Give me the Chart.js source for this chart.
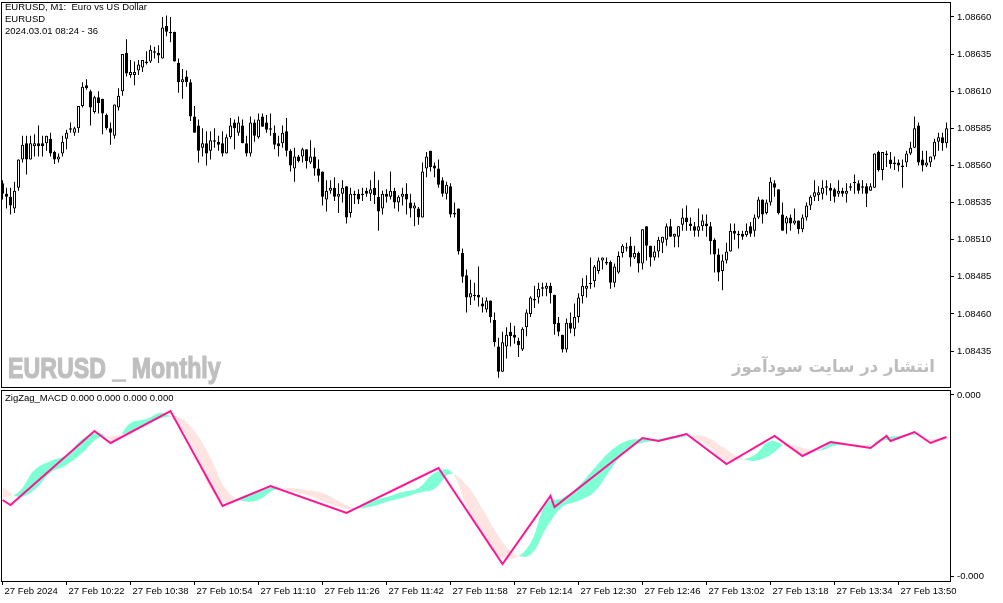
<!DOCTYPE html>
<html>
<head>
<meta charset="utf-8">
<script src="https://cdn.jsdelivr.net/npm/chart.js@4.4.1/dist/chart.umd.min.js"></script>
<style>
  html, body { margin: 0; padding: 0; background: #fff; }
  body { width: 1003px; height: 603px; position: relative; overflow: hidden; font-family: 'Liberation Sans', Arial, sans-serif; }
  canvas { position: absolute; left: 0; }
  #main { top: 0; }
  #ind { top: 389px; }
  .txt { position: absolute; font-size: 9.5px; line-height: 12px; color: #000; white-space: pre; }
  .wm { position: absolute; color: #bfbfbf; font-weight: bold; white-space: pre; }
</style>
</head>
<body>
<canvas id="main" width="1003" height="389"></canvas>
<canvas id="ind" width="1003" height="214"></canvas>

<div class="txt" style="left:5px;top:1px">EURUSD, M1:  Euro vs US Dollar</div>
<div class="txt" style="left:5px;top:13px">EURUSD</div>
<div class="txt" style="left:5px;top:25px">2024.03.01 08:24 - 36</div>
<div class="wm" style="left:8px;top:354px;font-size:29px;line-height:29px;transform:scaleX(0.8);transform-origin:left top;-webkit-text-stroke:1.2px #bfbfbf">EURUSD _ Monthly</div>
<div class="wm" style="right:68px;top:354px;font-size:16.5px;line-height:26px;font-family:'DejaVu Sans';direction:rtl;color:#bcbcbc">انتشار در سایت سودآموز</div>
<div class="txt" style="left:5px;top:392px">ZigZag_MACD 0.000 0.000 0.000 0.000</div>

<script>
// prices are in points (0.00001) above 1.08000, one entry per M1 bar
const base = 1.08;

const opens = [
  548,541,539,531,545,564,575,564,573,575,575,575,578,569,564,568,578,584,582,585,
  600,614,610,596,606,605,594,585,580,599,610,636,621,621,624,626,629,630,636,636,
  632,654,650,650,629,616,620,616,593,587,572,575,570,577,576,575,568,579,589,582,
  587,575,568,589,579,593,589,585,582,575,575,583,570,558,566,566,571,562,566,558,
  556,537,543,545,539,541,546,528,541,541,540,543,541,545,539,531,541,539,543,535,
  539,541,535,531,531,525,558,570,560,558,550,541,546,527,531,501,486,471,473,473,
  467,463,469,456,438,421,438,448,446,442,436,451,460,470,471,477,477,479,473,454,
  446,436,454,450,458,472,477,481,482,489,496,495,495,481,488,501,505,506,498,501,
  494,519,506,498,502,508,510,519,512,512,520,525,521,519,516,519,521,519,510,500,
  489,496,502,516,514,514,513,519,516,525,537,528,535,548,544,527,521,525,521,523,
  517,525,533,539,540,541,545,545,544,541,543,541,545,548,548,545,546,543,545,569,
  557,567,564,562,562,560,562,568,572,587,564,560,562,566,576,579,575
];
const highs = [
  550,545,545,549,564,580,580,580,581,587,580,580,582,570,568,580,584,589,586,600,
  616,618,611,607,610,605,595,589,601,612,635,645,631,630,631,631,637,641,640,641,
  660,661,660,650,632,625,624,618,600,591,585,583,583,585,580,583,581,592,591,593,
  591,580,593,591,595,595,594,595,587,580,587,592,571,572,567,572,571,577,572,564,
  556,550,550,552,548,550,546,545,543,544,545,545,550,556,550,543,544,556,545,540,
  545,548,541,535,532,562,569,570,562,564,552,549,548,535,531,504,490,483,481,492,
  471,471,469,461,444,448,451,454,452,444,451,463,472,479,481,481,481,481,473,458,
  446,457,461,467,474,484,486,498,493,498,498,498,496,494,502,507,508,512,506,502,
  517,519,506,506,512,512,521,524,514,519,531,533,525,522,531,527,527,522,511,504,
  500,508,521,521,516,516,521,522,527,539,537,537,552,550,544,535,526,527,531,523,
  527,535,540,550,546,550,550,548,545,550,545,548,548,554,550,550,548,548,568,570,
  569,570,569,566,564,564,570,576,593,589,570,570,566,578,582,582,589
];
const lows = [
  537,531,527,528,543,562,554,564,566,566,566,570,566,561,562,566,571,582,580,582,
  599,611,587,595,595,581,584,574,578,597,607,620,619,614,621,623,628,629,632,629,
  632,647,643,630,609,605,613,590,582,562,566,560,564,572,570,566,568,578,571,580,
  575,566,566,576,578,586,582,580,571,566,572,566,556,549,562,562,558,561,553,549,
  533,529,541,536,528,535,521,525,534,534,536,539,536,534,516,527,535,537,531,529,
  533,527,525,519,520,525,552,556,552,545,539,537,525,525,500,481,461,466,469,465,
  461,461,454,438,417,421,430,438,440,431,435,445,458,464,467,472,472,467,446,445,
  434,434,447,445,454,467,471,477,478,487,490,493,477,478,487,498,502,492,497,488,
  490,496,492,496,498,501,506,512,505,505,516,516,516,512,512,516,512,500,488,482,
  476,494,502,510,504,510,512,512,512,524,521,527,533,539,527,516,514,516,520,514,
  515,523,530,536,536,537,540,536,535,539,539,535,543,541,541,541,532,543,545,556,
  550,559,558,557,556,545,559,567,572,560,556,559,559,564,570,570,572
];
const closes = [
  541,539,533,543,564,574,564,575,575,573,573,580,568,564,566,576,582,585,585,600,
  613,612,599,606,602,595,585,582,601,607,635,622,623,623,628,631,630,638,637,634,
  653,650,649,630,616,618,616,593,582,570,575,568,577,576,574,568,579,587,585,589,
  575,568,589,580,591,586,584,584,574,573,582,570,560,566,563,571,563,566,558,553,
  539,543,545,539,541,545,525,541,540,537,541,541,544,540,529,541,539,543,535,539,
  541,537,531,533,525,556,566,559,558,547,541,547,527,528,502,485,471,474,472,471,
  465,469,458,441,421,441,446,445,444,439,450,461,471,469,477,478,479,474,453,448,
  436,454,450,458,471,479,479,480,492,496,498,494,481,492,499,506,504,498,501,494,
  517,506,498,502,510,512,519,512,514,519,525,522,519,516,519,523,519,509,500,488,
  496,502,516,514,513,512,516,514,525,537,527,535,549,545,528,516,525,521,523,517,
  525,533,539,542,542,545,546,543,539,543,541,543,546,549,543,546,541,546,568,557,
  569,568,561,561,560,559,568,572,585,562,560,562,566,576,579,575,585
];

// price scale labels (points above 1.08000)
const priceTicks = [435, 460, 485, 510, 535, 560, 585, 610, 635, 660];

// time axis: bar index and label
const timeIdx = [0, 16, 32, 48, 64, 80, 96, 112, 128, 144, 160, 176, 192, 208, 224];
const timeLabels = ['27 Feb 2024', '27 Feb 10:22', '27 Feb 10:38', '27 Feb 10:54', '27 Feb 11:10',
  '27 Feb 11:26', '27 Feb 11:42', '27 Feb 11:58', '27 Feb 12:14', '27 Feb 12:30', '27 Feb 12:46',
  '27 Feb 13:02', '27 Feb 13:18', '27 Feb 13:34', '27 Feb 13:50'];

// ZigZag_MACD window, values in 1e-6
const zzIdx = [0, 2, 23, 27, 42, 55, 67, 86, 109, 125, 137, 138, 160, 164, 171, 181, 193, 200, 207, 217, 221, 222, 228, 232, 236];
const zzVal = [-105, -110, -36, -48, -16, -111, -91, -118, -73, -169, -101, -112, -43, -46, -39, -69, -41, -61, -47, -53, -41, -46, -37, -48, -42];

const bandIdx = [0, 4, 8, 12, 16, 20, 24, 28, 32, 36, 40, 44, 48, 52, 56, 60, 64, 68, 72, 76,
  80, 84, 88, 92, 96, 100, 104, 108, 112, 116, 120, 124, 128, 132, 136, 140, 144, 148, 152, 156,
  160, 164, 168, 172, 176, 180, 184, 188, 192, 196, 200, 204, 208, 212, 216, 220, 224, 228, 232, 236];
const fastVal = [-103, -97, -75, -66, -60, -44, -38, -45, -28, -24, -18, -30, -56, -93, -108, -101, -97, -92, -96, -100,
  -106, -112, -114, -106, -102, -97, -93, -78, -76, -111, -141, -161, -163, -148, -108, -103, -91, -73, -56, -46,
  -44, -44, -41, -42, -50, -64, -65, -60, -46, -52, -59, -55, -47, -50, -52, -43, -41, -39, -46, -44];
const slowVal = [-92, -102, -95, -78, -70, -58, -43, -41, -37, -30, -23, -22, -36, -63, -95, -106, -105, -95, -93, -95,
  -98, -106, -113, -112, -107, -103, -98, -94, -79, -90, -114, -141, -159, -160, -133, -112, -106, -97, -75, -55,
  -48, -46, -44, -41, -42, -52, -62, -66, -60, -49, -53, -56, -51, -49, -50, -46, -44, -40, -44, -42];
const macdTicks = [0, -181];

if (opens.length !== 237 || highs.length !== 237 || lows.length !== 237 || closes.length !== 237) {
  throw new Error('bar counts ' + [opens.length, highs.length, lows.length, closes.length].join(','));
}

Chart.defaults.font.family = "'Liberation Sans', Arial, sans-serif";
Chart.defaults.font.size = 9.5;
Chart.defaults.color = '#000';

const frame = {
  id: 'frame',
  afterDraw(chart) {
    const a = chart.chartArea, g = chart.ctx;
    g.save();
    g.strokeStyle = '#000';
    g.lineWidth = 1;
    g.strokeRect(a.left + 0.5, a.top + 0.5, a.right - a.left, a.bottom - a.top);
    g.restore();
  }
};

// keep Chart.js from reserving room for overhanging tick labels
function noPad(s) {
  s.paddingTop = 0; s.paddingBottom = 0; s.paddingLeft = 0; s.paddingRight = 0;
}

const xMin = -0.375, xMax = 236.875;

new Chart(document.getElementById('main'), {
  type: 'bar',
  data: {
    datasets: [{
      data: closes.map((c, i) => ({ x: i, y: [opens[i], c] })),
      backgroundColor: closes.map((c, i) => c >= opens[i] ? '#ffffff' : '#000000'),
      borderColor: '#000',
      borderWidth: 1,
      borderSkipped: false,
      barThickness: 3,
      inflateAmount: 0,
      grouped: false
    }, {
      data: highs.map((h, i) => ({ x: i, y: [lows[i], h] })),
      backgroundColor: '#000',
      borderWidth: 0,
      barThickness: 1,
      inflateAmount: 0,
      grouped: false
    }]
  },
  options: {
    responsive: false,
    animation: false,
    layout: { padding: { left: 1, top: 2, right: 0, bottom: 2 } },
    plugins: { legend: { display: false }, tooltip: { enabled: false } },
    scales: {
      x: { type: 'linear', min: xMin, max: xMax, offset: false, display: false },
      y: {
        position: 'right',
        min: 410.8,
        max: 670.1,
        afterFit(s) { s.width = 53; noPad(s); },
        afterBuildTicks(s) { s.ticks = priceTicks.map(v => ({ value: v })); },
        ticks: { padding: 3, callback: v => (base + v / 1e5).toFixed(5) },
        grid: { drawOnChartArea: false, tickLength: 4, color: '#000' },
        border: { display: false }
      }
    }
  },
  plugins: [frame]
});

new Chart(document.getElementById('ind'), {
  type: 'line',
  data: {
    datasets: [{
      data: zzIdx.map((x, k) => ({ x: x, y: zzVal[k] })),
      borderColor: '#ff1493',
      borderWidth: 2,
      pointRadius: 0,
      tension: 0,
      fill: false
    }, {
      data: bandIdx.map((x, k) => ({ x: x, y: fastVal[k] })),
      borderColor: 'rgba(0,0,0,0)',
      borderWidth: 0,
      pointRadius: 0,
      tension: 0.4,
      fill: { target: '+1', above: '#7fffd4', below: '#ffe4e1' }
    }, {
      data: bandIdx.map((x, k) => ({ x: x, y: slowVal[k] })),
      borderColor: 'rgba(0,0,0,0)',
      borderWidth: 0,
      pointRadius: 0,
      tension: 0.4,
      fill: false
    }]
  },
  options: {
    responsive: false,
    animation: false,
    layout: { padding: { left: 1, top: 1, right: 0, bottom: 0 } },
    plugins: { legend: { display: false }, tooltip: { enabled: false } },
    scales: {
      x: {
        type: 'linear',
        min: xMin,
        max: xMax,
        offset: false,
        afterFit(s) { s.height = 22; noPad(s); },
        afterBuildTicks(s) { s.ticks = timeIdx.map(v => ({ value: v })); },
        ticks: {
          autoSkip: false, maxRotation: 0, align: 'start', labelOffset: 2, padding: 1,
          callback: v => timeLabels[timeIdx.indexOf(v)]
        },
        grid: { drawOnChartArea: false, tickLength: 4, color: '#000' },
        border: { display: false }
      },
      y: {
        position: 'right',
        min: -186,
        max: 5,
        afterFit(s) { s.width = 53; noPad(s); },
        afterBuildTicks(s) { s.ticks = macdTicks.map(v => ({ value: v })); },
        ticks: { padding: 3, callback: v => (v / 1e6).toFixed(3) },
        grid: { drawOnChartArea: false, tickLength: 4, color: '#000' },
        border: { display: false }
      }
    }
  },
  plugins: [frame]
});
</script>
</body>
</html>
